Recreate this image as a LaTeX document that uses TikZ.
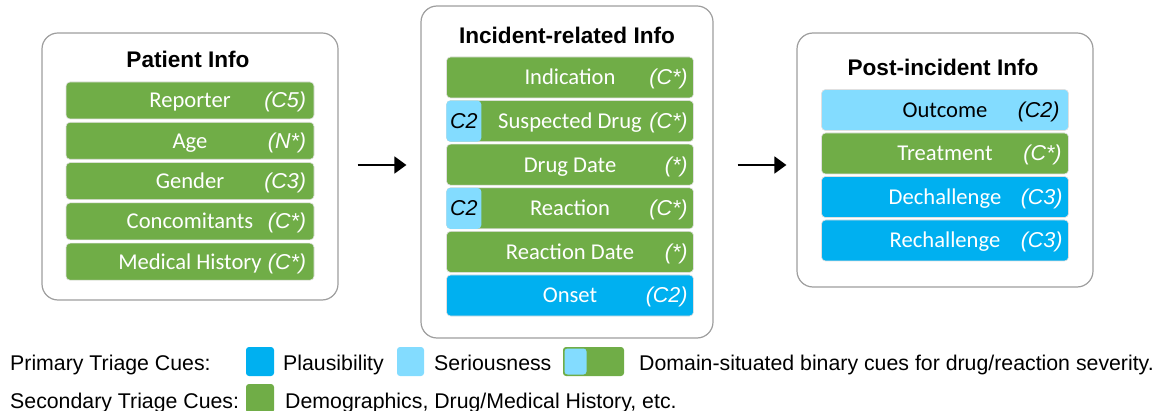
\documentclass[tikz,border=0pt]{standalone}
\usepackage{fontspec}
\setmainfont{Liberation Sans}
\newfontfamily\calib{Carlito}
\usetikzlibrary{arrows.meta}
\definecolor{cuegreen}{HTML}{70AD47}
\definecolor{cueblue}{HTML}{00B0F0}
\definecolor{cuelight}{HTML}{83DCFF}
\tikzset{
	panel/.style={draw=black!38, line width=1.2pt, rounded corners=16pt, fill=white, inner sep=0pt},
	head/.style={inner sep=0pt, font=\bfseries\fontsize{22.6}{27}\selectfont},
	bar/.style={draw=black!12, line width=0.6pt, rounded corners=4pt, inner sep=0pt, minimum width=247pt, minimum height=41pt, text=white, font=\calib\fontsize{22.6}{27}\selectfont, text height=16pt, text depth=1pt},
	sec/.style={bar, fill=cuegreen},
	pla/.style={bar, fill=cueblue},
	ser/.style={bar, fill=cuelight, text=black},
	tag/.style={anchor=east, inner sep=0pt, text=white, font=\itshape\fontsize{21.5}{26}\selectfont, text height=16pt, text depth=1pt},
	badge/.style={anchor=west, fill=cuelight, rounded corners=4pt, inner sep=0pt, minimum width=35pt, minimum height=41pt, font=\itshape\fontsize{21.5}{26}\selectfont, text height=16pt, text depth=1pt},
	flow/.style={-{Triangle[length=12pt,width=17pt]}, line width=1.8pt},
	key/.style={rounded corners=3pt, minimum width=28pt, minimum height=29pt, inner sep=0pt},
	legend/.style={anchor=base west, inner sep=0pt, font=\fontsize{21.3}{25}\selectfont}
}
\begin{document}
\begin{tikzpicture}[x=1pt, y=-1pt]
	\useasboundingbox (0,0) rectangle (1158,411);
	
	% three panels
	\node[panel, minimum width=296pt, minimum height=267pt] (pat) at (190,166.5) {};
	\node[panel, minimum width=292pt, minimum height=332pt] (inc) at (567,172) {};
	\node[panel, minimum width=296pt, minimum height=254pt] (post) at (945,160) {};
	
	\node[head] (pat-h) at (188,59) {Patient Info};
	\node[head] (inc-h) at (567,35) {Incident-related Info};
	\node[head] (post-h) at (943,67) {Post-incident Info};
	
	% patient info
	\node[sec, minimum width=248pt, minimum height=37pt] (rep) at (190,100.5) {Reporter};
	\node[tag] (rep-t) at ([xshift=-8pt]rep.east) {(C5)};
	\node[sec, minimum width=248pt, minimum height=37pt] (age) at (190,140.8) {Age};
	\node[tag] (age-t) at ([xshift=-8pt]age.east) {(N*)};
	\node[sec, minimum width=248pt, minimum height=37pt] (gen) at (190,181.1) {Gender};
	\node[tag] (gen-t) at ([xshift=-8pt]gen.east) {(C3)};
	\node[sec, minimum width=248pt, minimum height=37pt] (con) at (190,221.4) {Concomitants};
	\node[tag] (con-t) at ([xshift=-8pt]con.east) {(C*)};
	\node[sec, minimum width=248pt, minimum height=37pt] (med) at (190,261.7) {Medical History};
	\node[tag] (med-t) at ([xshift=-8pt]med.east) {(C*)};
	
	% incident-related info
	\node[sec] (ind) at (570,77.5) {Indication};
	\node[tag] (ind-t) at ([xshift=-6pt]ind.east) {(C*)};
	\node[sec] (sus) at (570,121.1) {Suspected Drug};
	\node[tag] (sus-t) at ([xshift=-6pt]sus.east) {(C*)};
	\node[badge] (sus-c) at (sus.west) {C2};
	\node[sec] (ddt) at (570,164.7) {Drug Date};
	\node[tag] (ddt-t) at ([xshift=-6pt]ddt.east) {(*)};
	\node[sec] (rea) at (570,208.3) {Reaction};
	\node[tag] (rea-t) at ([xshift=-6pt]rea.east) {(C*)};
	\node[badge] (rea-c) at (rea.west) {C2};
	\node[sec] (rdt) at (570,251.9) {Reaction Date};
	\node[tag] (rdt-t) at ([xshift=-6pt]rdt.east) {(*)};
	\node[pla] (ons) at (570,295.5) {Onset};
	\node[tag] (ons-t) at ([xshift=-6pt]ons.east) {(C2)};
	
	% post-incident info
	\node[ser] (out) at (945,110) {Outcome};
	\node[tag, text=black] (out-t) at ([xshift=-9pt]out.east) {(C2)};
	\node[sec] (tre) at (945,153.5) {Treatment};
	\node[tag] (tre-t) at ([xshift=-7pt]tre.east) {(C*)};
	\node[pla] (dec) at (945,197) {Dechallenge};
	\node[tag] (dec-t) at ([xshift=-6pt]dec.east) {(C3)};
	\node[pla] (rec) at (945,240.5) {Rechallenge};
	\node[tag] (rec-t) at ([xshift=-6pt]rec.east) {(C3)};
	
	% arrows
	\coordinate (lvl) at (0,165);
	\draw[flow, shorten <=19pt, shorten >=14pt] (pat.east |- lvl) -- (inc.west |- lvl);
	\draw[flow, shorten <=24pt, shorten >=10pt] (inc.east |- lvl) -- (post.west |- lvl);
	
	% legend
	\node[legend] (pri) at (10,370) {Primary Triage Cues:};
	\node[key, fill=cueblue] (k-pla) at (260,361.5) {};
	\node[legend] (t-pla) at (283,370) {Plausibility};
	\node[key, fill=cuelight, minimum width=27pt] (k-ser) at (410.5,361.5) {};
	\node[legend] (t-ser) at (434,370) {Seriousness};
	\node[key, fill=cuegreen, minimum width=61pt] (k-bin) at (593.5,361.5) {};
	\node[key, fill=cuelight, minimum width=22pt, minimum height=26pt, anchor=west] (k-bin2) at ([xshift=1.5pt]k-bin.west) {};
	\node[legend] (t-bin) at (639,370) {Domain-situated binary cues for drug/reaction severity.};
	\node[legend] (sec) at (10,408) {Secondary Triage Cues:};
	\node[key, fill=cuegreen] (k-sec) at (260,398.5) {};
	\node[legend] (t-sec) at (285,408) {Demographics, Drug/Medical History, etc.};
\end{tikzpicture}
\end{document}
